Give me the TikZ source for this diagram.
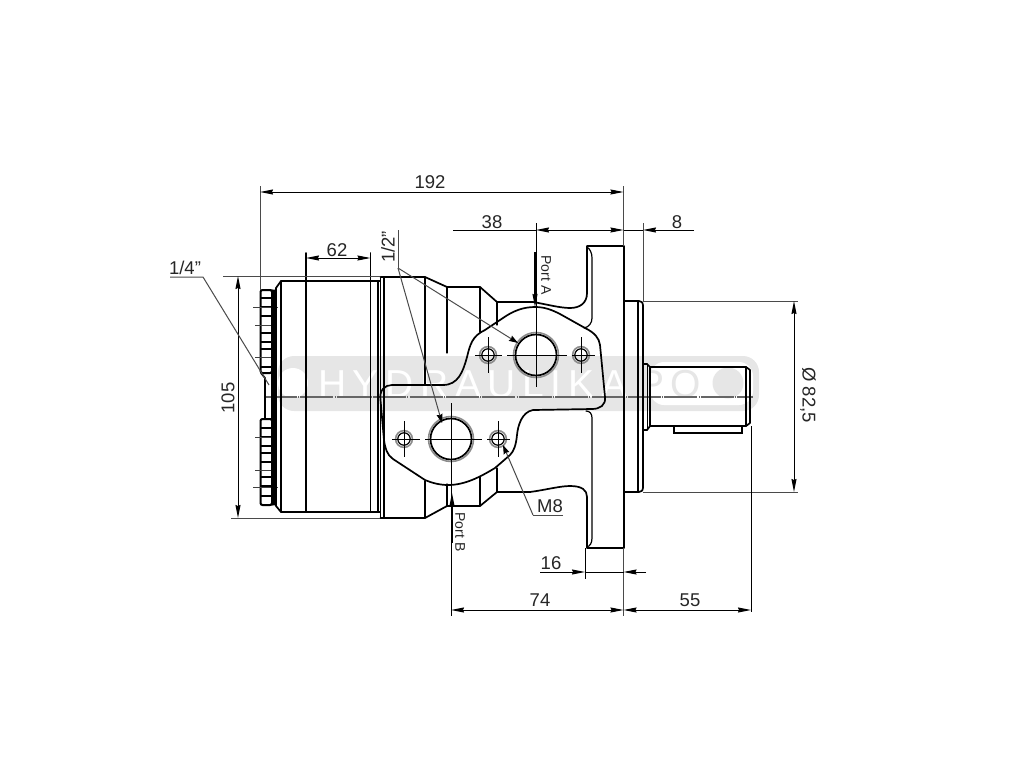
\documentclass[tikz,border=0pt]{standalone}
\usepackage{fontspec}
\setmainfont{Liberation Sans}
\usetikzlibrary{arrows.meta}
\definecolor{wmgray}{HTML}{E6E6E6}
\definecolor{dimgray}{HTML}{4A4A4A}
\definecolor{txt}{HTML}{262626}
\newfontfamily\wmfont[LetterSpace=17]{Liberation Sans}
\tikzset{
  outl/.style={line width=1.7pt,black,line cap=round,line join=round},
  thinl/.style={line width=1.2pt,black,line cap=round},
  boltl/.style={line width=2pt,black,line cap=round},
  dimline/.style={line width=1pt,dimgray},
  dimdark/.style={line width=1pt,black},
  ctr/.style={line width=1pt,black},
  arr/.style={-{Stealth[length=13pt,width=5pt,inset=1pt]}},
  rarr/.style={{Stealth[length=13pt,width=5pt,inset=1pt]}-},
  darr/.style={{Stealth[length=13pt,width=5pt,inset=1pt]}-{Stealth[length=13pt,width=5pt,inset=1pt]}},
  larr/.style={-{Stealth[length=9pt,width=6pt,inset=1pt,black]}},
  lbl/.style={font=\fontsize{18.5}{18.5}\selectfont,text=txt,inner sep=0pt},
  smalllbl/.style={font=\fontsize{14}{14}\selectfont,text=txt,inner sep=0pt},
  wm/.style={font=\fontsize{39}{39}\wmfont,inner sep=0pt},
}
\begin{document}
\begin{tikzpicture}[x=1pt,y=-1pt]
\useasboundingbox (0,0) rectangle (1024,768);
% watermark
\fill[wmgray,rounded corners=16pt] (278,356) rectangle (759,411);
\fill[white,rounded corners=14pt] (650,362) -- (753,362) -- (753,405) -- (650,405) -- cycle;
\fill[white] (293,383) circle (15);
\fill[wmgray] (728,383) circle (15.5);
\node[wm,text=white,anchor=base west] (wmA) at (318,397) {HYDRAULIKA};
\node[wm,text=wmgray,anchor=base west] (wmB) at (638,397) {PO};
% long centre line
\draw[line width=1.2pt,black!60,dash pattern=on 33pt off 1.2pt on 1pt off 1.2pt] (264,397) -- (753,397);
% bolts
\foreach \a/\b in {290/373,419/505}{
  \draw[boltl,rounded corners=2pt] (260.5,\a) rectangle (272,\b);
}
\foreach \y in {298,307,316,333,342,349,367,428,437,446,453,462,477,486,496}{
  \draw[line width=1.6pt,black] (260.5,\y) -- (272,\y);
}
\foreach \y/\a/\b in {307/253/278,325/255/277,357/255/277,437/255/277,470/255/277,487/253/278}{
  \draw[line width=1pt,black!75] (\a,\y) -- (\b,\y);
}
\draw[outl] (261,373) -- (265,378) -- (265,419);
\draw[outl] (272,290) -- (272,505);
\draw[thinl] (274,290) -- (274,505);
% motor body
\draw[outl] (276,288) -- (281,281) -- (380,281);
\draw[outl] (276,288) -- (276,506) -- (281,512) -- (380,512);
\draw[outl] (281,281) -- (281,512);
\draw[outl] (306,253) -- (306,512);
\draw[outl] (370.5,253) -- (370.5,512);
\draw[outl] (378,281) -- (378,512);
\draw[outl] (380.5,278) -- (380.5,518);
\draw[outl] (384,277) -- (384,518);
% housing
\draw[outl] (380.5,277) -- (425,277) -- (447,287) -- (480,287) -- (497,302) -- (533,302)
  .. controls (545,304) and (560,308) .. (570,308)
  .. controls (580,308) and (587,303) .. (587,293) -- (587,246) -- (624,246) -- (624,548) -- (587,548)
  -- (587,497) .. controls (587,490) and (582,486) .. (570,486)
  .. controls (560,486) and (545,490) .. (530,492) -- (497,492) -- (480,506) -- (447,506) -- (425,518) -- (380.5,518);
\draw[thinl] (587,247) .. controls (590,249) and (592,253) .. (592,258) -- (592,318)
  .. controls (592,323) and (589,327) .. (584,328);
\draw[thinl] (586,411) .. controls (590,411) and (592,414) .. (592,418) -- (592,538)
  .. controls (592,543) and (590,546) .. (587,547);
\foreach \x/\a/\b in {425/277/385,447/287/353,480/287/332,497/302/325,425/481/518,447/484/506,480/477/506,497/468/492}{
  \draw[thinl] (\x,\a) -- (\x,\b);
}
% plate
\draw[outl] (380.5,400) .. controls (379,390) and (385,385) .. (392,385) -- (443,385)
  .. controls (458,385) and (463,372) .. (467,357)
  .. controls (470,345) and (472,336) .. (485,330) -- (503,318)
  .. controls (513,311) and (523,307) .. (535,307)
  .. controls (545,307) and (552,310) .. (560,314) -- (585,328)
  .. controls (595,333) and (599,338) .. (600,345) -- (605,397)
  .. controls (606,405) and (600,409) .. (592,409) -- (533,410)
  .. controls (522,412) and (518,425) .. (517,435)
  .. controls (516,445) and (514,451) .. (510,455) -- (495,468)
  .. controls (480,477) and (465,485) .. (448,485)
  .. controls (440,485) and (432,483) .. (425,480) -- (393,459)
  .. controls (387,455) and (385,448) .. (384,440) -- cycle;
% ports and holes
\foreach \cx/\cy in {536/355,451/439}{
  \draw[line width=1.6pt,black!45] (\cx,\cy) circle (22.5);
  \draw[outl] (\cx,\cy) circle (20.5);
}
\foreach \cx/\cy in {488/355,581/355,404/439,498/439}{
  \draw[line width=1.6pt,black!45] (\cx,\cy) circle (8.4);
  \draw[thinl] (\cx,\cy) circle (6.2);
  \draw[ctr] (\cx,\cy-18) -- (\cx,\cy+18);
}
\draw[ctr] (475,355) -- (502,355) (507,355) -- (567,355) (572,355) -- (595,355);
\draw[ctr] (392,439) -- (420,439) (425,439) -- (482,439) (487,439) -- (510,439);
% pilot flange and shaft
\draw[outl] (624,301) -- (639,301) .. controls (642,301) and (643,303) .. (643,305)
  -- (643,488) .. controls (643,490) and (642,492) .. (639,492) -- (624,492);
\draw[thinl] (638,301) -- (638,492);
\draw[outl] (643,364) -- (647,364) -- (650,367) -- (650,426) -- (647,430) -- (643,430);
\draw[thinl] (647.5,364) -- (647.5,430);
\draw[outl] (650,367) -- (746,367) -- (750,370) -- (750,423) -- (746,426) -- (650,426);
\draw[thinl] (746,367) -- (746,426);
\draw[thinl] (674,426) -- (674,433) -- (742,433) -- (742,426);
% dimensions: extension lines
\draw[dimline] (260,186) -- (260,290);
\draw[dimline] (623.5,186) -- (623.5,246);
\draw[dimline] (623.5,548) -- (623.5,616);
\draw[dimline] (643,223) -- (643,301);
\draw[dimline] (223,276) -- (380,276);
\draw[dimline] (231,518) -- (380,518);
\draw[dimline] (643,301) -- (798,301);
\draw[dimline] (643,492) -- (798,492);
\draw[dimdark] (751,426) -- (751,612);
\draw[dimdark] (536,223) -- (536,387);
\draw[dimdark] (451,403) -- (451,616);
\draw[dimdark] (585,548) -- (585,579);
% dimension lines
\draw[dimdark,darr] (260,192) -- (623.5,192);
\draw[dimdark,darr] (306,258) -- (370.5,258);
\draw[dimdark,darr] (238,276) -- (238,518);
\draw[dimdark,darr] (794,301) -- (794,492);
\draw[dimdark,darr] (451,610) -- (623.5,610);
\draw[dimdark,darr] (623.5,610) -- (751,610);
\draw[dimdark] (453,230) -- (536,230);
\draw[dimdark,darr] (536,230) -- (623.5,230);
\draw[dimdark,arr] (694,230) -- (643,230);
\draw[dimdark] (623.5,230) -- (643,230);
\draw[dimdark,arr] (540,572) -- (585,572);
\draw[dimdark,arr] (646,572) -- (623.5,572);
\draw[dimdark] (585,572) -- (623.5,572);
% port arrows
\draw[line width=1.2pt,black,arr] (535,252) -- (535,307);
\draw[line width=1.2pt,black,arr] (452,543) -- (452,493);
% leaders
\coordinate (q4) at (170,277);
\coordinate (q4k) at (203,277);
\coordinate (q4e) at (269,385);
\coordinate (q2top) at (398,230);
\coordinate (q2k) at (398,268);
\coordinate (q2a) at (518,343);
\coordinate (q2b) at (442,423);
\coordinate (m8s) at (563,515);
\coordinate (m8k) at (533,515);
\coordinate (m8e) at (503,445);
\draw[dimline] (q4) -- (q4k) -- (q4e);
\draw[dimline] (q2top) -- (q2k);
\draw[dimline,larr] (q2k) -- (q2a);
\draw[dimline,larr] (q2k) -- (q2b);
\draw[dimline,larr] (m8k) -- (m8e);
\draw[dimline] (m8s) -- (m8k);
% labels
\node[lbl] (t192) at (430,182) {192};
\node[lbl] (t62) at (337,250) {62};
\node[lbl] (t14) at (185,268) {1/4"};
\node[lbl,rotate=90] (t12) at (388,247) {1/2"};
\node[lbl,rotate=90] (t105) at (228,398) {105};
\node[lbl] (t38) at (492,222) {38};
\node[lbl] (t8) at (677,222) {8};
\node[lbl] (t16) at (551,563) {16};
\node[lbl] (t74) at (540,600) {74};
\node[lbl] (t55) at (690,600) {55};
\node[lbl] (tm8) at (550,506) {M8};
\node[lbl,rotate=-90] (td) at (808,395) {Ø 82,5};
\node[smalllbl,rotate=-90] (pa) at (546,275) {Port A};
\node[smalllbl,rotate=-90] (pb) at (460,532) {Port B};
\end{tikzpicture}
\end{document}
